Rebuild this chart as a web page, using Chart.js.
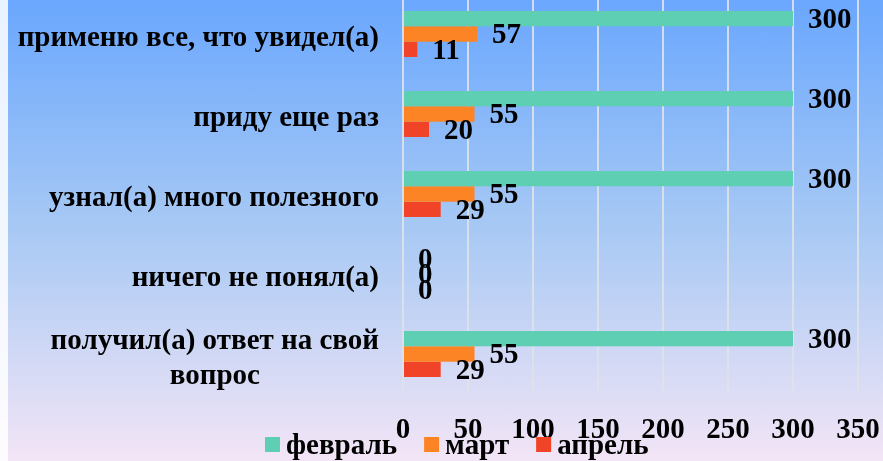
<!DOCTYPE html>
<html>
<head>
<meta charset="utf-8">
<script src="https://cdn.jsdelivr.net/npm/chart.js@4.4.1/dist/chart.umd.min.js"></script>
<style>
  html, body { margin: 0; padding: 0; width: 883px; height: 461px; overflow: hidden; }
  body {
    position: relative;
    background: linear-gradient(to bottom, #6aa7fe 0%, #a8c9f4 50%, #f3e5f6 100%);
  }
  #strip { position: absolute; left: 0; top: 0; width: 8px; height: 461px; background: rgba(255, 255, 255, 0.85); }
  #wrap { position: absolute; left: 0; top: -26px; width: 883px; height: 487px; }
</style>
</head>
<body>
<div id="strip"></div>
<div id="wrap"><canvas id="chart" width="883" height="487"></canvas></div>
<script>
// categories top to bottom (multi-line labels as arrays)
const categories = [
  'применю все, что увидел(а)',
  'приду еще раз',
  'узнал(а) много полезного',
  'ничего не понял(а)',
  ['получил(а) ответ на свой', 'вопрос'],
];
const seriesNames = ['февраль', 'март', 'апрель'];
const febValues = [300, 300, 300, 0, 300];
const marValues = [57, 55, 55, 0, 55];
const aprValues = [11, 20, 29, 0, 29];
const xTicks = [0, 50, 100, 150, 200, 250, 300, 350];
const seriesColors = ['#5ecfb2', '#fd8424', '#f04328'];

const FONT = '"Liberation Serif", "Times New Roman", serif';
const FONT_SIZE = 29;

// value labels, category labels and legend drawn in the slide's style
const slideLabels = {
  id: 'slideLabels',
  afterDatasetsDraw(chart) {
    const ctx = chart.ctx;
    ctx.save();
    ctx.font = `bold ${FONT_SIZE}px ${FONT}`;
    ctx.fillStyle = '#000';

    // value labels right of each bar
    ctx.textAlign = 'left';
    ctx.textBaseline = 'middle';
    chart.data.datasets.forEach((ds, i) => {
      chart.getDatasetMeta(i).data.forEach((bar, j) => {
        ctx.fillText(String(ds.data[j]), bar.x + 15, bar.y + 2);
      });
    });

    // category labels: right aligned, extra lines centred on the widest
    const yScale = chart.scales.y;
    ctx.textAlign = 'center';
    categories.forEach((cat, i) => {
      const lines = Array.isArray(cat) ? cat : [cat];
      const w = Math.max(...lines.map(l => ctx.measureText(l).width));
      const cx = yScale.right - 24 - w / 2;
      const cy = yScale.getPixelForTick(i) + 5;
      lines.forEach((l, k) => {
        ctx.fillText(l, cx, cy + (k - (lines.length - 1) / 2) * 35);
      });
    });

    // legend
    const area = chart.chartArea;
    let x = 265;
    const boxTop = area.bottom + 43;
    ctx.textAlign = 'left';
    chart.data.datasets.forEach((ds) => {
      ctx.fillStyle = ds.backgroundColor;
      ctx.fillRect(x, boxTop, 15, 15);
      ctx.fillStyle = '#000';
      ctx.fillText(ds.label, x + 21, boxTop + 10);
      x += 21 + ctx.measureText(ds.label).width + 27;
    });
    ctx.restore();
  }
};

new Chart(document.getElementById('chart'), {
  type: 'bar',
  data: {
    labels: categories,
    datasets: [
      { label: seriesNames[0], data: febValues, backgroundColor: seriesColors[0] },
      { label: seriesNames[1], data: marValues, backgroundColor: seriesColors[1] },
      { label: seriesNames[2], data: aprValues, backgroundColor: seriesColors[2] },
    ],
  },
  options: {
    indexAxis: 'y',
    responsive: false,
    animation: false,
    devicePixelRatio: 1,
    categoryPercentage: 0.575,
    barPercentage: 1,
    layout: { padding: { top: 20, right: 25, left: 0, bottom: 0 } },
    plugins: {
      legend: { display: false },
      tooltip: { enabled: false },
    },
    scales: {
      x: {
        min: 0,
        max: 350,
        afterBuildTicks: (scale) => { scale.ticks = xTicks.map(v => ({ value: v })); },
        afterFit: (scale) => {
          scale.height = 67;
          scale.paddingLeft = 0;
          scale.paddingRight = 0;
        },
        grid: { color: 'rgba(222, 226, 232, 0.9)', lineWidth: 2, drawTicks: false },
        border: { display: false },
        ticks: {
          padding: 19,
          maxRotation: 0,
          autoSkip: false,
          color: '#000',
          font: { family: FONT, size: FONT_SIZE, weight: 'bold' },
        },
      },
      y: {
        afterFit: (scale) => { scale.width = 403; },
        grid: { display: false },
        border: { display: false },
        ticks: { display: false },
      },
    },
  },
  plugins: [slideLabels],
});
</script>
</body>
</html>
